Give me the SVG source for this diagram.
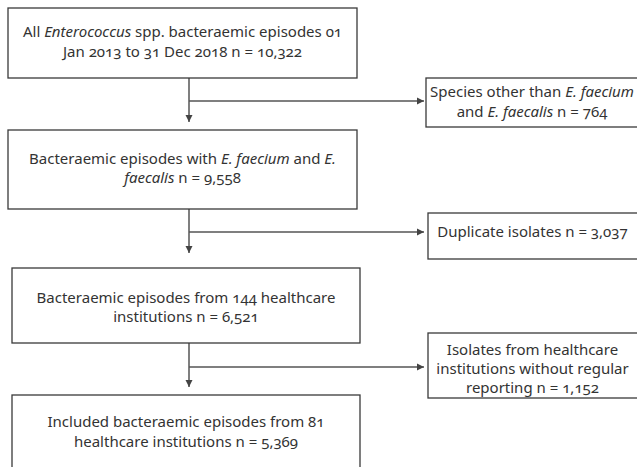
<svg xmlns="http://www.w3.org/2000/svg" width="637" height="467" viewBox="0 0 637 467">
<style>
.box{fill:#fff;stroke:#3a3a3a;stroke-width:1.3}
.t{font-family:"Noto Sans","Open Sans",sans-serif;font-size:15px;fill:#333;text-anchor:middle;font-variant-numeric:oldstyle-nums}
.c{fill:none;stroke:#555;stroke-width:1.5}
</style>
<defs>
<marker id="ah" markerWidth="8" markerHeight="8" refX="7" refY="4" orient="auto" markerUnits="userSpaceOnUse">
<path d="M0,0.5 L7,4 L0,7.5 Z" fill="#444"/>
</marker>
</defs>
<rect width="637" height="467" fill="#fff"/>
<g id="connectors">
<path class="c" d="M189,78 V122" marker-end="url(#ah)"/>
<path class="c" d="M189,101 H424" marker-end="url(#ah)"/>
<path class="c" d="M189,209 V253" marker-end="url(#ah)"/>
<path class="c" d="M189,232 H424" marker-end="url(#ah)"/>
<path class="c" d="M189,343 V387" marker-end="url(#ah)"/>
<path class="c" d="M189,367 H424" marker-end="url(#ah)"/>
</g>
<g id="n1">
<rect class="box" x="8" y="8" width="349" height="70"/>
<text class="t" x="182.5" y="37">All <tspan font-style="italic">Enterococcus</tspan> spp. bacteraemic episodes 01</text>
<text class="t" x="182.5" y="57">Jan 2013 to 31 Dec 2018 n = 10,322</text>
</g>
<g id="n2">
<rect class="box" x="426" y="78" width="214" height="49"/>
<text class="t" x="532" y="97">Species other than <tspan font-style="italic">E. faecium</tspan></text>
<text class="t" x="532" y="117">and <tspan font-style="italic">E. faecalis</tspan> n = 764</text>
</g>
<g id="n3">
<rect class="box" x="8" y="130" width="349" height="79"/>
<text class="t" x="182.5" y="164">Bacteraemic episodes with <tspan font-style="italic">E. faecium</tspan> and <tspan font-style="italic">E.</tspan></text>
<text class="t" x="182.5" y="183"><tspan font-style="italic">faecalis</tspan> n = 9,558</text>
</g>
<g id="n4">
<rect class="box" x="428" y="213" width="212" height="46"/>
<text class="t" x="532.5" y="237">Duplicate isolates n = 3,037</text>
</g>
<g id="n5">
<rect class="box" x="12" y="268" width="348" height="75"/>
<text class="t" x="186" y="303">Bacteraemic episodes from 144 healthcare</text>
<text class="t" x="186" y="322">institutions n = 6,521</text>
</g>
<g id="n6">
<rect class="box" x="428" y="333" width="212" height="65"/>
<text class="t" x="532.5" y="355">Isolates from healthcare</text>
<text class="t" x="532.5" y="374">institutions without regular</text>
<text class="t" x="532.5" y="393">reporting n = 1,152</text>
</g>
<g id="n7">
<rect class="box" x="12" y="395" width="348" height="80"/>
<text class="t" x="186" y="427">Included bacteraemic episodes from 81</text>
<text class="t" x="186" y="447">healthcare institutions n = 5,369</text>
</g>
</svg>
